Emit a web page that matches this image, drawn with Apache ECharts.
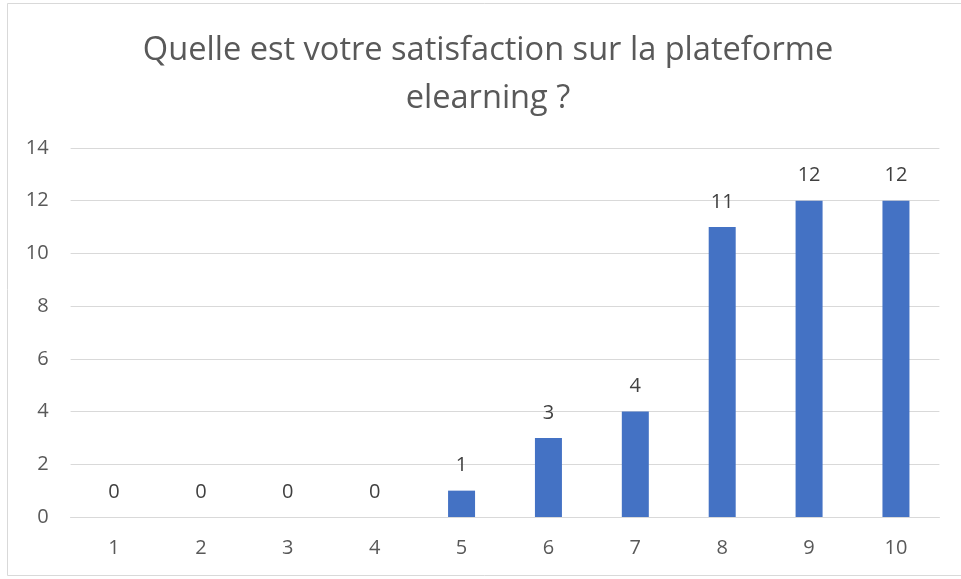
<!DOCTYPE html>
<html><head><meta charset="utf-8">
<script src="https://cdn.jsdelivr.net/npm/echarts@6/dist/echarts.min.js"></script>
<style>html,body{margin:0;padding:0;background:#fff}#c{width:961px;height:579px}</style>
</head><body><div id="c"></div>
<script>
const titleText = "Quelle est votre satisfaction sur la plateforme\nelearning ?";
const categories = ["1","2","3","4","5","6","7","8","9","10"];
const values = [0,0,0,0,1,3,4,11,12,12];
const yTicks = { min: 0, max: 14, interval: 2 };

const chart = echarts.init(document.getElementById('c'), null, {renderer:'canvas'});
chart.setOption({
  animation: false,
  backgroundColor: '#ffffff',
  title: {
    text: titleText,
    left: 483,
    top: 22,
    textAlign: 'center',
    textStyle: { fontFamily: 'Open Sans', fontSize: 32.6, fontWeight: 'normal', color: '#595959', lineHeight: 48 }
  },
  graphic: [{
    type: 'rect', shape: { x: 7.5, y: 3.5, width: 960, height: 572 },
    style: { fill: 'none', stroke: '#d9d9d9', lineWidth: 1 }, silent: true
  }],
  grid: { left: 70.6, right: 21.6, top: 148, bottom: 62 },
  xAxis: {
    type: 'category', data: categories,
    axisLine: { lineStyle: { color: '#d9d9d9', width: 1 } },
    axisTick: { show: false },
    axisLabel: { color: '#595959', fontSize: 20, fontFamily: 'Open Sans', margin: 21 }
  },
  yAxis: {
    type: 'value', min: yTicks.min, max: yTicks.max, interval: yTicks.interval,
    axisLine: { show: false }, axisTick: { show: false },
    splitLine: { lineStyle: { color: '#d9d9d9', width: 1 } },
    axisLabel: { color: '#595959', fontSize: 20, fontFamily: 'Open Sans', margin: 22 }
  },
  series: [{
    type: 'bar', data: values, barWidth: 27,
    itemStyle: { color: '#4472C4' },
    label: { show: true, position: 'top', distance: 15, color: '#404040', fontSize: 20, fontFamily: 'Open Sans' }
  }]
});
</script></body></html>
